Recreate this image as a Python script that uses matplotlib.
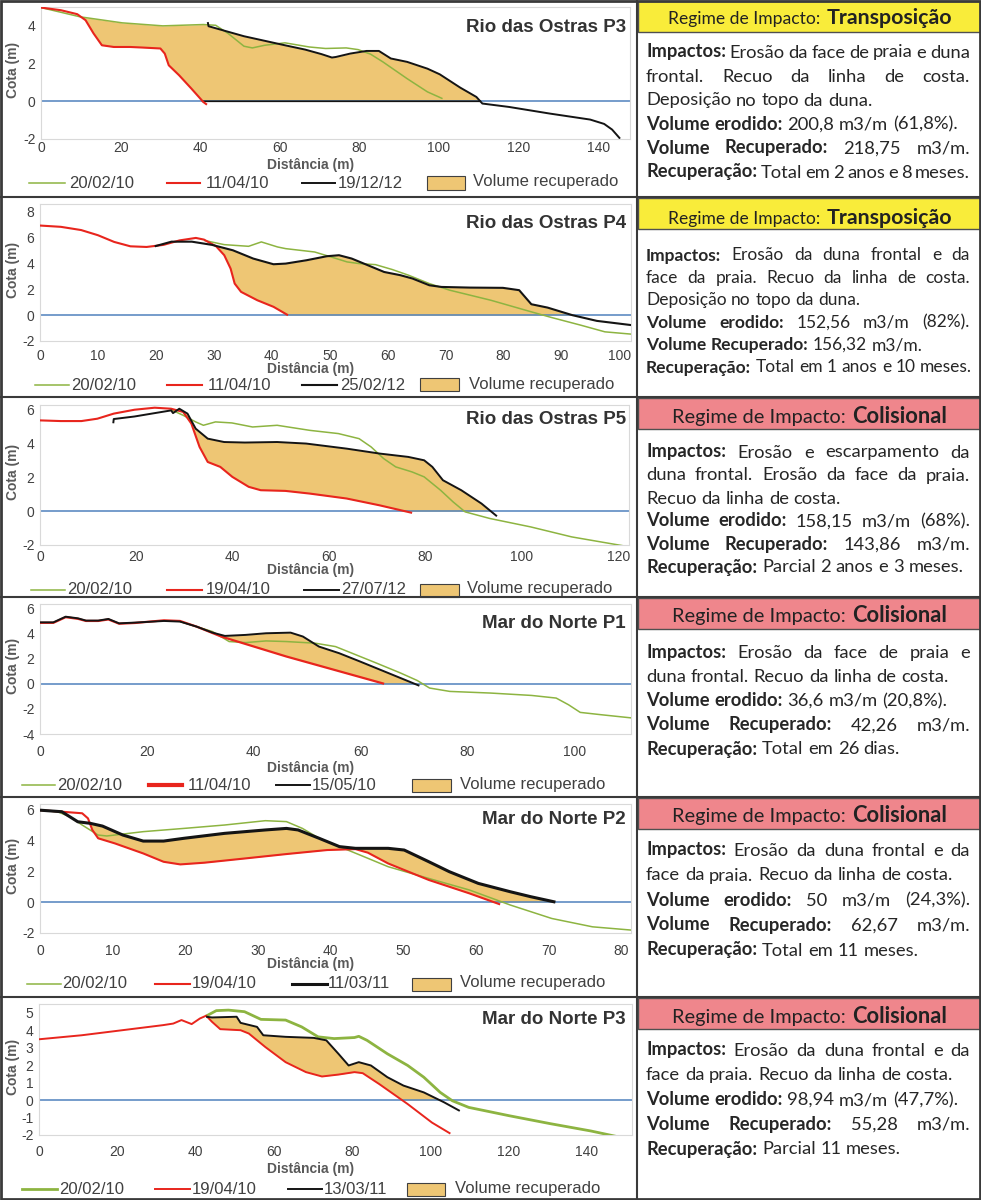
import numpy as np
import matplotlib
matplotlib.use("Agg")
import matplotlib.pyplot as plt
from matplotlib.font_manager import FontProperties
from matplotlib.lines import Line2D
from matplotlib.patches import Rectangle

# --- Figure size (pixels at 100 dpi) ---
FIG_W, FIG_H = 981, 1200
CHART_FONT = "Liberation Sans"
BODY_FONT = "Lato"

GREEN = "#8DB441"
RED = "#E8251D"
BLACK = "#141414"
BLUE = "#4F81BD"
FILL = "#EEC674"
YELLOW = "#F9EC3A"
PINK = "#EF868C"
TICK_TXT = "#404040"
LABEL_TXT = "#595959"
BODY_TXT = "#262626"

plt.rcParams["font.family"] = CHART_FONT
plt.rcParams["axes.unicode_minus"] = False

# --- Rio das Ostras P3 ---
ROP3_GREEN_X = [0, 9.8, 20.4, 30.6, 40.8, 43.9, 47, 51, 53.1, 56.2, 61.3, 67.4, 71.5, 76.7, 79.7, 82.8, 85.9, 92, 97.1, 100.9]
ROP3_GREEN_Y = [4.97, 4.48, 4.16, 4.0, 4.07, 4.03, 3.6, 2.92, 2.83, 2.97, 3.1, 2.88, 2.8, 2.83, 2.74, 2.5, 2.09, 1.2, 0.5, 0.14]
ROP3_RED_X = [0, 5, 9.1, 11.2, 13.2, 15.3, 18.3, 22.4, 25.5, 30, 31.1, 32.1, 34.7, 37.8, 40.8, 41.7]
ROP3_RED_Y = [4.97, 4.83, 4.62, 4.3, 3.6, 2.97, 2.88, 2.88, 2.85, 2.8, 2.53, 1.91, 1.38, 0.67, -0.04, -0.18]
ROP3_BLACK_X = [41.9, 42.1, 51, 61.3, 66.4, 70.5, 73.1, 74.1, 77.7, 81.8, 84.9, 87.9, 92, 97.1, 100.2, 105.3, 109.4, 110.9, 117.6, 127.8, 138, 141.5, 143.5, 145.5]
ROP3_BLACK_Y = [4.2, 3.98, 3.45, 2.97, 2.74, 2.5, 2.32, 2.35, 2.53, 2.67, 2.67, 2.27, 2.09, 1.73, 1.43, 0.73, 0.23, -0.12, -0.3, -0.65, -0.97, -1.2, -1.5, -1.98]

# --- Rio das Ostras P4 ---
ROP4_GREEN_X = [28.3, 31.8, 36, 38.2, 41, 42.4, 47.4, 50.2, 53, 55.1, 57.9, 60.8, 63.6, 67.2, 70.7, 77.8, 84.8, 88.3, 93.3, 97.5, 102.1]
ROP4_GREEN_Y = [5.8, 5.47, 5.34, 5.68, 5.29, 5.16, 4.9, 4.52, 4.13, 4.0, 3.92, 3.54, 3.1, 2.45, 1.94, 1.16, 0.26, -0.18, -0.77, -1.29, -1.47]
ROP4_RED_X = [0, 3.6, 7.1, 10, 12.8, 15.6, 18.4, 21.3, 24.1, 26.9, 28.3, 30.4, 31.8, 32.9, 33.6, 34.7, 37.5, 40.3, 42.8]
ROP4_RED_Y = [6.95, 6.85, 6.6, 6.2, 5.68, 5.34, 5.29, 5.45, 5.8, 5.99, 5.86, 5.34, 4.65, 3.61, 2.45, 1.81, 1.16, 0.65, 0.0]
ROP4_BLACK_X = [19.8, 22.7, 26.2, 29.7, 33.3, 36.8, 40.3, 42.4, 46, 49.5, 51.6, 53.8, 56.6, 59.4, 62.2, 64.3, 67.2, 69.3, 74.2, 79.9, 82.7, 83.7, 84.8, 87.6, 91.9, 96.1, 102.1]
ROP4_BLACK_Y = [5.34, 5.7, 5.7, 5.45, 5.03, 4.39, 3.95, 4.0, 4.26, 4.57, 4.65, 4.39, 3.87, 3.35, 3.1, 2.84, 2.32, 2.19, 2.14, 2.12, 1.94, 1.42, 0.85, 0.59, 0.0, -0.44, -0.77]

# --- Rio das Ostras P5 ---
ROP5_GREEN_X = [27.2, 29.7, 32.3, 33.9, 36.4, 39.8, 44.1, 49.2, 56, 61.9, 66.2, 68.7, 71.3, 73.8, 77.2, 79.7, 83.1, 85.7, 88.2, 93.3, 101.8, 110.3, 122.1]
ROP5_GREEN_Y = [6.0, 5.67, 5.28, 5.08, 5.28, 5.22, 4.98, 5.08, 4.78, 4.59, 4.29, 3.8, 3.11, 2.62, 2.32, 2.03, 1.24, 0.55, -0.04, -0.43, -0.93, -1.52, -2.1]
ROP5_RED_X = [0, 4.3, 8.6, 11.9, 15.3, 19.6, 23.8, 27.2, 29.7, 31.4, 33.1, 34.8, 37.4, 39.9, 43.3, 45.8, 50.9, 56, 63.6, 70.4, 77.2]
ROP5_RED_Y = [5.37, 5.33, 5.33, 5.47, 5.77, 6.0, 6.12, 6.06, 5.87, 5.18, 3.8, 2.91, 2.62, 2.03, 1.44, 1.24, 1.2, 1.04, 0.75, 0.35, -0.1]
ROP5_BLACK_X = [15.2, 15.3, 19.6, 23.8, 27.2, 27.6, 28.9, 30.6, 32.3, 34.8, 38.2, 42.5, 49.2, 55.2, 63.6, 70.4, 76.4, 79.7, 81.4, 83.6, 87.4, 91.6, 94.8]
ROP5_BLACK_Y = [5.2, 5.45, 5.6, 5.8, 5.96, 5.8, 6.06, 5.77, 4.88, 4.29, 4.09, 4.06, 4.09, 4.0, 3.7, 3.41, 3.21, 3.01, 2.62, 1.83, 1.24, 0.45, -0.3]

# --- Mar do Norte P1 ---
MNP1_GREEN_X = [26.2, 29.3, 32.3, 35.4, 38.5, 42.3, 46.1, 51.5, 55.3, 58.4, 63, 67.5, 70.6, 72.9, 76.7, 84.3, 92, 96.6, 98.9, 101.1, 104.9, 110.7]
MNP1_GREEN_Y = [4.95, 4.55, 4.15, 3.36, 3.28, 3.41, 3.36, 3.23, 2.96, 2.43, 1.64, 0.85, 0.26, -0.34, -0.61, -0.74, -0.93, -1.14, -1.67, -2.28, -2.46, -2.72]
MNP1_RED_X = [0, 2.5, 4.8, 7.1, 8.6, 10.9, 12.8, 14.8, 17.8, 23.2, 26.2, 29.3, 33.9, 46.1, 64.4]
MNP1_RED_Y = [4.85, 4.85, 5.3, 5.17, 5.0, 5.0, 5.12, 4.78, 4.84, 5.05, 5.0, 4.55, 3.76, 2.17, 0.0]
MNP1_BLACK_X = [0, 2.5, 4.8, 7.1, 8.6, 10.9, 12.8, 14.8, 17.8, 23.2, 26.2, 29.3, 32.3, 34.6, 38.5, 42.3, 46.9, 49.2, 52.2, 56, 59.9, 63.7, 67.5, 71]
MNP1_BLACK_Y = [4.89, 4.89, 5.34, 5.21, 5.03, 5.03, 5.16, 4.81, 4.87, 5.0, 4.95, 4.55, 4.07, 3.81, 3.89, 4.02, 4.07, 3.76, 2.96, 2.43, 1.77, 1.11, 0.45, -0.16]

# --- Mar do Norte P2 ---
MNP2_GREEN_X = [0, 2.4, 4.1, 5.8, 8, 9.2, 14.2, 19.8, 25.4, 31, 33.9, 36.1, 38.4, 41.2, 44, 47.9, 53.5, 59.1, 64.7, 70.4, 76, 81.3]
MNP2_GREEN_Y = [5.95, 5.85, 5.53, 4.99, 4.34, 4.28, 4.56, 4.77, 4.99, 5.27, 5.21, 4.77, 4.13, 3.59, 3.05, 2.29, 1.53, 0.78, -0.19, -1.06, -1.6, -1.81]
MNP2_RED_X = [0, 3, 5.8, 6.6, 7.2, 8, 10.3, 14.2, 17, 19.3, 22.6, 28.3, 33.9, 39.5, 43.4, 45.1, 47.9, 53.5, 59.1, 63.3]
MNP2_RED_Y = [5.95, 5.85, 5.75, 5.42, 4.67, 4.13, 3.8, 3.15, 2.61, 2.44, 2.55, 2.83, 3.11, 3.37, 3.43, 3.2, 2.5, 1.43, 0.56, -0.15]
MNP2_BLACK_X = [0, 3, 5.2, 6.9, 8.6, 11.4, 14.2, 17, 19.8, 25.4, 31, 33.9, 35.5, 38.4, 41.2, 43.4, 47.9, 50.1, 53.5, 56.3, 60.3, 64.7, 67.5, 70.9]
MNP2_BLACK_Y = [5.95, 5.85, 5.2, 5.1, 4.92, 4.34, 3.95, 3.95, 4.13, 4.45, 4.67, 4.77, 4.67, 4.13, 3.59, 3.48, 3.48, 3.37, 2.61, 1.97, 1.21, 0.67, 0.35, 0.0]

# --- Mar do Norte P3 ---
MNP3_GREEN_X = [42.7, 45.3, 48.4, 52.5, 56.7, 63, 67.1, 71.3, 75.4, 80.6, 81.7, 83.8, 89, 94.2, 98.3, 102.5, 105.6, 109.8, 120.2, 130.6, 141, 148.3]
MNP3_GREEN_Y = [4.81, 5.12, 5.15, 5.06, 4.62, 4.58, 4.19, 3.62, 3.52, 3.58, 3.65, 3.42, 2.65, 1.98, 1.31, 0.44, -0.04, -0.42, -0.9, -1.35, -1.77, -2.12]
MNP3_RED_X = [0, 10.9, 21.3, 31.7, 34.3, 36.4, 39, 41.1, 42.7, 44.2, 46.3, 51.5, 53.6, 57.8, 63, 68.2, 72.3, 76.5, 80.6, 82.7, 86.9, 94.2, 100.4, 105.1]
MNP3_RED_Y = [3.48, 3.71, 4.0, 4.29, 4.38, 4.58, 4.35, 4.67, 4.83, 4.48, 4.06, 4.0, 3.81, 3.04, 2.17, 1.6, 1.35, 1.46, 1.6, 1.54, 0.92, -0.23, -1.29, -1.92]
MNP3_BLACK_X = [42.7, 44.2, 50.5, 51.5, 55.7, 57.3, 63, 70.2, 73.4, 76.5, 79.1, 81.7, 84.8, 89, 93.1, 98.3, 103.5, 107.5]
MNP3_BLACK_Y = [4.77, 4.73, 4.77, 4.42, 4.19, 3.71, 3.62, 3.56, 3.42, 2.65, 1.98, 2.17, 1.98, 1.31, 0.83, 0.44, -0.13, -0.62]

TITLES = ["Rio das Ostras P3", "Rio das Ostras P4", "Rio das Ostras P5",
          "Mar do Norte P1", "Mar do Norte P2", "Mar do Norte P3"]
DATES = [["20/02/10", "11/04/10", "19/12/12"],
         ["20/02/10", "11/04/10", "25/02/12"],
         ["20/02/10", "19/04/10", "27/07/12"],
         ["20/02/10", "11/04/10", "15/05/10"],
         ["20/02/10", "19/04/10", "11/03/11"],
         ["20/02/10", "19/04/10", "13/03/11"]]
FILL_LABEL = "Volume recuperado"
# x where the recovered-volume area starts
FILL_START = [9, 28, 30, 27, 6.5, 43]
REGIMES = ["Transposição", "Transposição", "Colisional", "Colisional", "Colisional", "Colisional"]

# (bold label, rest of line, justified?)
ROP3_TEXT = [("Impactos:", "Erosão da face de praia e duna", True),
             ("", "frontal. Recuo da linha de costa.", True),
             ("", "Deposição no topo da duna.", False),
             ("Volume erodido:", "200,8 m3/m (61,8%).", False),
             ("Volume Recuperado:", "218,75 m3/m.", True),
             ("Recuperação:", "Total em 2 anos e 8 meses.", True)]
ROP4_TEXT = [("Impactos:", "Erosão da duna frontal e da", True),
             ("", "face da praia. Recuo da linha de costa.", True),
             ("", "Deposição no topo da duna.", False),
             ("Volume erodido:", "152,56 m3/m (82%).", True),
             ("Volume Recuperado:", "156,32 m3/m.", False),
             ("Recuperação:", "Total em 1 anos e 10 meses.", False)]
ROP5_TEXT = [("Impactos:", "Erosão e escarpamento da", True),
             ("", "duna frontal. Erosão da face da praia.", True),
             ("", "Recuo da linha de costa.", False),
             ("Volume erodido:", "158,15 m3/m (68%).", True),
             ("Volume Recuperado:", "143,86 m3/m.", True),
             ("Recuperação:", "Parcial 2 anos e 3 meses.", False)]
MNP1_TEXT = [("Impactos:", "Erosão da face de praia e", True),
             ("", "duna frontal. Recuo da linha de costa.", False),
             ("Volume erodido:", "36,6 m3/m (20,8%).", False),
             ("Volume Recuperado:", "42,26 m3/m.", True),
             ("Recuperação:", "Total em 26 dias.", False)]
MNP2_TEXT = [("Impactos:", "Erosão da duna frontal e da", True),
             ("", "face da praia. Recuo da linha de costa.", False),
             ("Volume erodido:", "50 m3/m (24,3%).", True),
             ("Volume Recuperado:", "62,67 m3/m.", True),
             ("Recuperação:", "Total em 11 meses.", False)]
MNP3_TEXT = [("Impactos:", "Erosão da duna frontal e da", True),
             ("", "face da praia. Recuo da linha de costa.", False),
             ("Volume erodido:", "98,94 m3/m (47,7%).", False),
             ("Volume Recuperado:", "55,28 m3/m.", True),
             ("Recuperação:", "Parcial 11 meses.", False)]

SERIES = [
    ((ROP3_GREEN_X, ROP3_GREEN_Y), (ROP3_RED_X, ROP3_RED_Y), (ROP3_BLACK_X, ROP3_BLACK_Y)),
    ((ROP4_GREEN_X, ROP4_GREEN_Y), (ROP4_RED_X, ROP4_RED_Y), (ROP4_BLACK_X, ROP4_BLACK_Y)),
    ((ROP5_GREEN_X, ROP5_GREEN_Y), (ROP5_RED_X, ROP5_RED_Y), (ROP5_BLACK_X, ROP5_BLACK_Y)),
    ((MNP1_GREEN_X, MNP1_GREEN_Y), (MNP1_RED_X, MNP1_RED_Y), (MNP1_BLACK_X, MNP1_BLACK_Y)),
    ((MNP2_GREEN_X, MNP2_GREEN_Y), (MNP2_RED_X, MNP2_RED_Y), (MNP2_BLACK_X, MNP2_BLACK_Y)),
    ((MNP3_GREEN_X, MNP3_GREEN_Y), (MNP3_RED_X, MNP3_RED_Y), (MNP3_BLACK_X, MNP3_BLACK_Y)),
]
TEXTS = [ROP3_TEXT, ROP4_TEXT, ROP5_TEXT, MNP1_TEXT, MNP2_TEXT, MNP3_TEXT]

# --- Layout (pixels) ---
ROW_TOPS = [0, 197, 397, 597, 797, 997]
AX_BOX = [(41, 7, 630, 139), (40, 204, 631, 341), (40, 405, 629, 545),
          (40, 604, 631, 734), (40, 804, 631, 933), (39, 1004, 632, 1135)]
XLIMS = [(0, 148), (0, 102), (0, 122.2), (0, 110.6), (0, 81.3), (0, 151.5)]
YLIMS = [(-2, 5), (-2, 8.62), (-2, 6.28), (-4, 6.35), (-2, 6.35), (-2, 5.5)]
XTICKS = [range(0, 141, 20), range(0, 101, 10), range(0, 121, 20),
          range(0, 101, 20), range(0, 81, 10), range(0, 141, 20)]
YTICKS = [[-2, 0, 2, 4], range(-2, 9, 2), range(-2, 7, 2),
          range(-4, 7, 2), range(-2, 7, 2), range(-2, 6)]
XPADS = [1.5, 5.5, 3.6, 8, 8, 7]
TITLE_Y = [27, 223, 420, 624, 820, 1020]
DIST_Y = [165, 369, 570, 768, 964, 1169]
LEG_Y = [183, 385, 590, 785, 984, 1189]
LEG_X = [[(29, 65, 69), (167, 200, 206), (302, 335, 338), (427, 465, 473)],
         [(35, 69, 71), (167, 202, 208), (302, 337, 340), (420, 459, 469)],
         [(31, 65, 67), (167, 202, 206), (304, 339, 341), (420, 459, 467)],
         [(22, 55, 57), (149, 182, 188), (276, 310, 312), (412, 451, 460)],
         [(27, 61, 62), (155, 190, 192), (292, 327, 328), (412, 451, 460)],
         [(22, 57, 59), (155, 190, 192), (288, 322, 324), (407, 445, 455)]]
# line widths: green, red, black (plot / legend)
LWS = [(1.1, 1.5, 1.4), (1.1, 1.5, 1.5), (1.1, 1.5, 1.4),
       (1.1, 1.6, 1.4), (1.1, 1.5, 2.2), (2.0, 1.4, 1.4)]
LEG_LWS = [(1.1, 1.5, 1.4), (1.1, 1.5, 1.5), (1.1, 1.5, 1.4),
           (1.1, 3.0, 1.4), (1.1, 1.5, 2.2), (2.0, 1.4, 1.4)]
HEADER_BASE = [24, 224, 423, 622, 822, 1023]
HEADER_FIT = {"Transposição": (152, 125), "Colisional": (173, 94)}
BODY_FIRST = [52, 255, 452, 652, 850, 1050]
BODY_STEP = [24, 22.4, 23, 24.25, 25, 24.75]
BODY_MAX_SIZE = 13.2
MIN_GAP = 0.45      # share of a normal space a justified line may shrink to
TXT_L, TXT_R = 646, 970

fig = plt.figure(figsize=(FIG_W / 100, FIG_H / 100), dpi=100)
renderer = fig.canvas.get_renderer()


def fxy(px, py):
    return px / FIG_W, 1 - py / FIG_H


def text_width(s, size, weight="normal", family=BODY_FONT):
    fp = FontProperties(family=family, size=size, weight=weight)
    w, _, _ = renderer.get_text_width_height_descent(s, fp, ismath=False)
    return w


def space_width(size):
    return text_width("a a", size) - text_width("aa", size)


def line_words(bold, rest):
    words = [(w, "bold") for w in bold.split()]
    words += [(w, "normal") for w in rest.split()]
    return words


def needed_width(words, just, size):
    f = MIN_GAP if just else 1.0
    return sum(text_width(w, size, wt) for w, wt in words) + f * space_width(size) * (len(words) - 1)


for i in range(6):
    (gx, gy), (rx, ry), (bx, by) = SERIES[i]
    l, t, r, b = AX_BOX[i]
    ax = fig.add_axes([l / FIG_W, 1 - b / FIG_H, (r - l) / FIG_W, (b - t) / FIG_H])
    ax.set_xlim(*XLIMS[i])
    ax.set_ylim(*YLIMS[i])
    ax.set_xticks(list(XTICKS[i]))
    ax.set_yticks(list(YTICKS[i]))
    ax.tick_params(length=0, labelsize=10, labelcolor=TICK_TXT)
    ax.tick_params(axis="x", pad=XPADS[i])
    ax.tick_params(axis="y", pad=4)
    for s in ax.spines.values():
        s.set_color("#D9D9D9")
        s.set_linewidth(0.8)

    ax.axhline(0, color=BLUE, lw=1.1, zorder=2)

    # recovered volume: between the latest profile and the post-storm profile
    xs = np.linspace(FILL_START[i], bx[-1], 3000)
    top = np.interp(xs, bx, by)
    if i == 0:
        top = np.where(xs < bx[0], np.interp(xs, gx, gy), top)
    bottom = np.maximum(np.interp(xs, rx, ry, right=0.0), 0.0)
    ax.fill_between(xs, bottom, top, where=top > bottom + 0.02, interpolate=True,
                    color=FILL, lw=0, zorder=1)
    if i == 0:
        on_zero = (bottom <= 0) & (top > 0)
        ax.plot(xs[on_zero], np.zeros(on_zero.sum()), color=BLACK, lw=1.2, zorder=2.5)

    lw_g, lw_r, lw_b = LWS[i]
    ax.plot(gx, gy, color=GREEN, lw=lw_g, zorder=3, solid_capstyle="butt")
    ax.plot(rx, ry, color=RED, lw=lw_r, zorder=4, solid_capstyle="butt")
    ax.plot(bx, by, color=BLACK, lw=lw_b, zorder=5, solid_capstyle="butt")

    # chart texts
    fig.text(*fxy(626, TITLE_Y[i]), TITLES[i], ha="right", va="center",
             fontsize=13.5, fontweight="bold", color="#333333")
    fig.text(*fxy(311, DIST_Y[i]), "Distância (m)", ha="center", va="center",
             fontsize=10, fontweight="bold", color=LABEL_TXT)
    fig.text(*fxy(13, (t + b) / 2 - 3), "Cota (m)", ha="center", va="center",
             rotation=90, fontsize=10, fontweight="bold", color=LABEL_TXT)

    # legend row
    ly = LEG_Y[i]
    for (x0, x1, xt), col, lw, lab in zip(LEG_X[i][:3], (GREEN, RED, BLACK), LEG_LWS[i], DATES[i]):
        fig.add_artist(Line2D([x0 / FIG_W, x1 / FIG_W], [fxy(0, ly)[1]] * 2,
                              color=col, lw=lw, transform=fig.transFigure))
        fig.text(*fxy(xt, ly), lab, ha="left", va="center", fontsize=12, color=TICK_TXT)
    x0, x1, xt = LEG_X[i][3]
    fig.add_artist(Rectangle(fxy(x0, ly + 6.5), (x1 - x0) / FIG_W, 13 / FIG_H,
                             transform=fig.transFigure, facecolor=FILL,
                             edgecolor="#404040", lw=0.8))
    fig.text(*fxy(xt, ly - 1), FILL_LABEL, ha="left", va="center", fontsize=12, color=TICK_TXT)

    # --- right-hand description panel ---
    top_px = ROW_TOPS[i]
    regime = REGIMES[i]
    fig.add_artist(Rectangle(fxy(638, top_px + 32), (FIG_W - 638) / FIG_W, 31 / FIG_H,
                             transform=fig.transFigure,
                             facecolor=YELLOW if regime == "Transposição" else PINK,
                             edgecolor="#505050", lw=1))
    w_reg, w_bold = HEADER_FIT[regime]
    s_reg = 12 * w_reg / text_width("Regime de Impacto:", 12)
    s_bold = 12 * w_bold / text_width(regime, 12, "bold")
    gap = 7
    hx = 809.5 - (w_reg + gap + w_bold) / 2
    fig.text(*fxy(hx, HEADER_BASE[i]), "Regime de Impacto:", ha="left", va="baseline",
             fontsize=s_reg, family=BODY_FONT, color="#222222")
    fig.text(*fxy(hx + w_reg + gap, HEADER_BASE[i]), regime, ha="left", va="baseline",
             fontsize=s_bold, family=BODY_FONT, fontweight="bold", color="#222222")

    lines = [(line_words(bl, rest), just) for bl, rest, just in TEXTS[i]]
    avail = TXT_R - TXT_L
    widest = max(needed_width(w, j, 12) for w, j in lines)
    size = min(BODY_MAX_SIZE, 12 * avail / widest)
    space = space_width(size)
    for k, (words, just) in enumerate(lines):
        widths = [text_width(w, size, wt) for w, wt in words]
        if just and len(words) > 1:
            g = (avail - sum(widths)) / (len(words) - 1)
        else:
            g = space
        x = TXT_L
        yb = BODY_FIRST[i] + BODY_STEP[i] * k + 5.5
        for (w, wt), wd in zip(words, widths):
            fig.text(*fxy(x, yb), w, ha="left", va="baseline", fontsize=size,
                     family=BODY_FONT, fontweight=wt, color=BODY_TXT)
            x += wd + g

# --- frame lines ---
frame = dict(color="#3a3a3a", lw=1.5, transform=fig.transFigure)
for yy in ROW_TOPS[1:]:
    fig.add_artist(Line2D([0, 1], [fxy(0, yy)[1]] * 2, **frame))
fig.add_artist(Line2D([637 / FIG_W] * 2, [0, 1], **frame))
fig.add_artist(Rectangle((0.0008, 0.0006), 0.9984, 0.9988, transform=fig.transFigure,
                         fill=False, edgecolor="#3a3a3a", lw=2))

fig.savefig("out.png", dpi=100)
